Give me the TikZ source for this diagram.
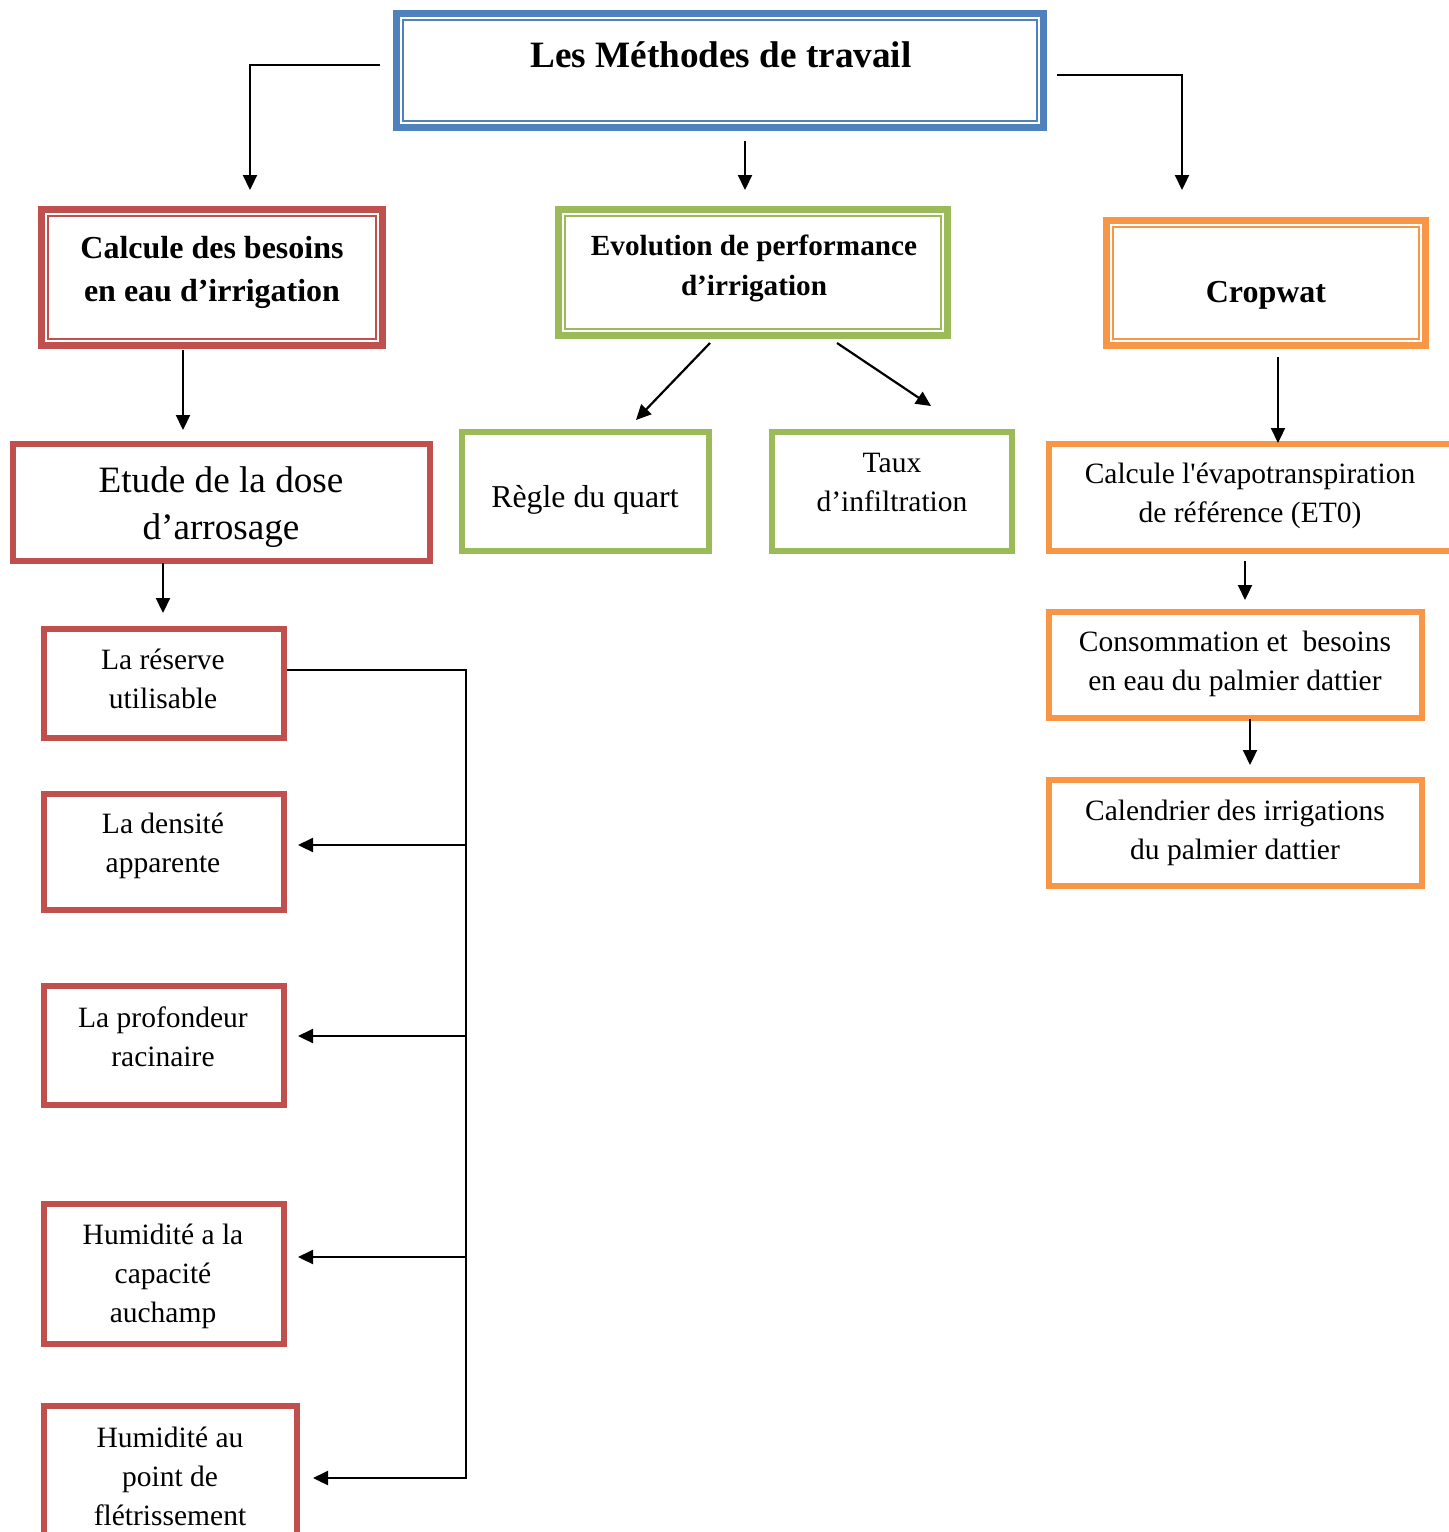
\documentclass[tikz,border=0pt]{standalone}
\usepackage{fontspec}
\setmainfont{Liberation Serif}
\usetikzlibrary{arrows.meta}
\definecolor{cblue}{HTML}{4F81BD}
\definecolor{cred}{HTML}{C0504D}
\definecolor{cgreen}{HTML}{9BBB59}
\definecolor{corange}{HTML}{F79646}
\begin{document}
\begin{tikzpicture}[x=0.5pt,y=-0.5pt,
  box/.style={rectangle, draw, outer sep=0pt, inner sep=0pt, line width=3pt},
  dbox/.style={box, line width=3.5pt},
  thinline/.style={line width=1pt},
  lab/.style={align=center, inner sep=0pt, font=\fontsize{14.75pt}{19.5pt}\selectfont},
  arr/.style={line width=1.1pt, -{Triangle[length=7.5pt,width=7pt]}},
  ln/.style={line width=1.1pt}]
\useasboundingbox (0,0) rectangle (1449,1532);
\clip (0,0) rectangle (1449,1532);

% double boxes
\node[dbox, draw=cblue, minimum width=323.5pt, minimum height=57pt] (title) at (720,70.5) {};
\draw[thinline, cblue] ([shift={(6.5,6.5)}]title.north west) rectangle ([shift={(-6.5,-6.5)}]title.south east);
\node[dbox, draw=cred, minimum width=170.5pt, minimum height=68pt] (calc) at (212,277.5) {};
\draw[thinline, cred] ([shift={(6.5,6.5)}]calc.north west) rectangle ([shift={(-6.5,-6.5)}]calc.south east);
\node[dbox, draw=cgreen, minimum width=194.5pt, minimum height=63pt] (evol) at (753,272.5) {};
\draw[thinline, cgreen] ([shift={(6.5,6.5)}]evol.north west) rectangle ([shift={(-6.5,-6.5)}]evol.south east);
\node[dbox, draw=corange, minimum width=159.5pt, minimum height=62.5pt] (crop) at (1266,283) {};
\draw[thinline, corange] ([shift={(6.5,6.5)}]crop.north west) rectangle ([shift={(-6.5,-6.5)}]crop.south east);

% single boxes
\node[box, draw=cred, minimum width=208.5pt, minimum height=58.5pt] (etude) at (221.5,502.5) {};
\node[box, draw=cgreen, minimum width=123.5pt, minimum height=59.5pt] (regle) at (585.5,491.5) {};
\node[box, draw=cgreen, minimum width=120pt, minimum height=59.5pt] (taux) at (892,491.5) {};
\node[box, draw=corange, minimum width=203pt, minimum height=53.5pt] (et0) at (1252,497.5) {};
\node[box, draw=corange, minimum width=186.5pt, minimum height=53pt] (conso) at (1235.5,665) {};
\node[box, draw=corange, minimum width=186.5pt, minimum height=53pt] (calend) at (1235.5,833) {};
\node[box, draw=cred, minimum width=120pt, minimum height=54.5pt] (reserve) at (164,683.5) {};
\node[box, draw=cred, minimum width=120pt, minimum height=58pt] (densite) at (164,852) {};
\node[box, draw=cred, minimum width=120pt, minimum height=59.5pt] (prof) at (164,1045.5) {};
\node[box, draw=cred, minimum width=120pt, minimum height=70pt] (humcap) at (164,1274) {};
\node[box, draw=cred, minimum width=126.5pt, minimum height=87pt] (humpt) at (170.5,1493) {};

% texts
\node[lab, font=\fontsize{18.6pt}{22pt}\selectfont\bfseries] (ttitle) at (721,55) {Les Méthodes de travail};
\node[lab, font=\fontsize{16pt}{21.5pt}\selectfont\bfseries] (tcalc) at (212,272) {Calcule des besoins\\en eau d’irrigation};
\node[lab, font=\fontsize{14.6pt}{20pt}\selectfont\bfseries] (tevol) at (754,268) {Evolution de performance\\d’irrigation};
\node[lab, font=\fontsize{16pt}{20pt}\selectfont\bfseries] (tcrop) at (1266,295) {Cropwat};
\node[lab, font=\fontsize{18.6pt}{23.5pt}\selectfont] (tetude) at (221,507) {Etude de la dose\\d’arrosage};
\node[lab, font=\fontsize{15.9pt}{20pt}\selectfont] (tregle) at (585,500) {Règle du quart};
\node[lab] (ttaux) at (892,482) {Taux\\d’infiltration};
\node[lab] (tet0) at (1250,496) {Calcule l\textquotesingle évapotranspiration\\de référence (ET0)};
\node[lab] (tconso) at (1235,664) {Consommation et\ \ besoins\\en eau du palmier dattier};
\node[lab] (tcalend) at (1235,833) {Calendrier des irrigations\\du palmier dattier};
\node[lab] (treserve) at (163,679) {La réserve\\utilisable};
\node[lab] (tdensite) at (163,846) {La densité\\apparente};
\node[lab] (tprof) at (163,1037) {La profondeur\\racinaire};
\node[lab] (thumcap) at (163,1276) {Humidité a la\\capacité\\auchamp};
\node[lab] (thumpt) at (170,1476) {Humidité au\\point de\\flétrissement};

% connector ends
\coordinate (a1) at (380,65);  \coordinate (a1e) at (250,190);
\coordinate (a2) at (745,141); \coordinate (a2e) at (745,190);
\coordinate (a3) at (1057,75); \coordinate (a3e) at (1182,190);
\coordinate (b1) at (183,350); \coordinate (b1e) at (183,430);
\coordinate (b2) at (710,343); \coordinate (b2e) at (636,420);
\coordinate (b3) at (837,343); \coordinate (b3e) at (931,406);
\coordinate (b4) at (1278,357); \coordinate (b4e) at (1278,443);
\coordinate (c1) at (1245,561); \coordinate (c1e) at (1245,600);
\coordinate (c2) at (1250,719); \coordinate (c2e) at (1250,765);
\coordinate (d1) at (163,563); \coordinate (d1e) at (163,613);
\coordinate (bus0) at (287,670); \coordinate (bus1) at (466,670);
\coordinate (bus2) at (466,1478); \coordinate (busE) at (313,1478);
\coordinate (j1) at (466,845); \coordinate (j1e) at (298,845);
\coordinate (j2) at (466,1036); \coordinate (j2e) at (298,1036);
\coordinate (j3) at (466,1257); \coordinate (j3e) at (298,1257);

\draw[arr] (a1) -| (a1e);
\draw[arr] (a2) -- (a2e);
\draw[arr] (a3) -| (a3e);
\draw[arr] (b1) -- (b1e);
\draw[arr] (b2) -- (b2e);
\draw[arr] (b3) -- (b3e);
\draw[arr] (b4) -- (b4e);
\draw[arr] (c1) -- (c1e);
\draw[arr] (c2) -- (c2e);
\draw[arr] (d1) -- (d1e);
\draw[arr] (bus0) -- (bus1) -- (bus2) -- (busE);
\draw[arr] (j1) -- (j1e);
\draw[arr] (j2) -- (j2e);
\draw[arr] (j3) -- (j3e);
\end{tikzpicture}
\end{document}
